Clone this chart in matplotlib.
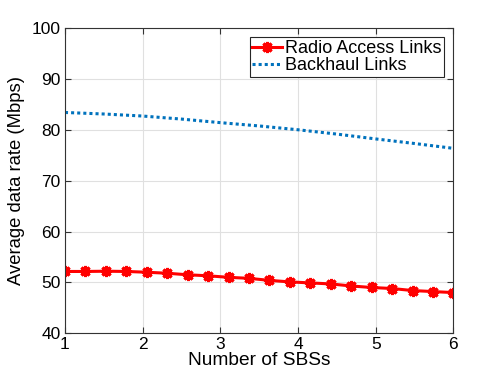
import matplotlib.pyplot as plt
import numpy as np

plt.rcParams['font.family'] = ['Liberation Sans', 'DejaVu Sans']

# data
num_sbs = np.linspace(1, 6, 20)
radio_rate = [52.15, 52.15, 52.2, 52.15, 52.0, 51.8, 51.5, 51.3, 51.0, 50.8,
              50.4, 50.1, 49.9, 49.7, 49.3, 49.0, 48.8, 48.4, 48.2, 48.0]

bh_x = [1, 1.5, 2, 2.5, 3, 3.5, 4, 4.5, 5, 5.5, 6]
bh_rate = [83.4, 83.1, 82.7, 82.1, 81.4, 80.75, 80.0, 79.15, 78.2, 77.3, 76.35]

yticks = [40, 50, 60, 70, 80, 90, 100]
xticks = [1, 2, 3, 4, 5, 6]

fig = plt.figure(figsize=(5.01, 3.76), dpi=100)
ax = fig.add_axes([0.1297, 0.1136, 0.7753, 0.8119])

ax.plot(num_sbs, radio_rate, color='red', lw=2.2, marker=(8, 2, 0),
        markersize=8, markeredgewidth=2.2, label='Radio Access Links')
ax.plot(bh_x, bh_rate, color=(0, 0.447, 0.741), lw=2.2, linestyle=(0, (1, 1)),
        label='Backhaul Links')

ax.set_xlim(1, 6)
ax.set_ylim(40, 100)
ax.set_xticks(xticks)
ax.set_yticks(yticks)
ax.tick_params(direction='in', top=True, right=True, labelsize=12.5,
               length=4, color='0.2', pad=3)
ax.grid(True, color='0.88', lw=0.8)
for s in ax.spines.values():
    s.set_color('0.2')
    s.set_linewidth(0.8)

ax.set_xlabel('Number of SBSs', fontsize=13.8, labelpad=0)
ax.set_ylabel('Average data rate (Mbps)', fontsize=13.3, labelpad=5)

leg = ax.legend(loc='upper right', bbox_to_anchor=(0.976, 0.97), fontsize=13,
                fancybox=False, framealpha=1, edgecolor='0.15',
                handlelength=1.65, handletextpad=0.15, borderpad=0.15,
                labelspacing=0.0, borderaxespad=0)
leg.get_frame().set_linewidth(0.8)

plt.savefig('out.png', dpi=100)
